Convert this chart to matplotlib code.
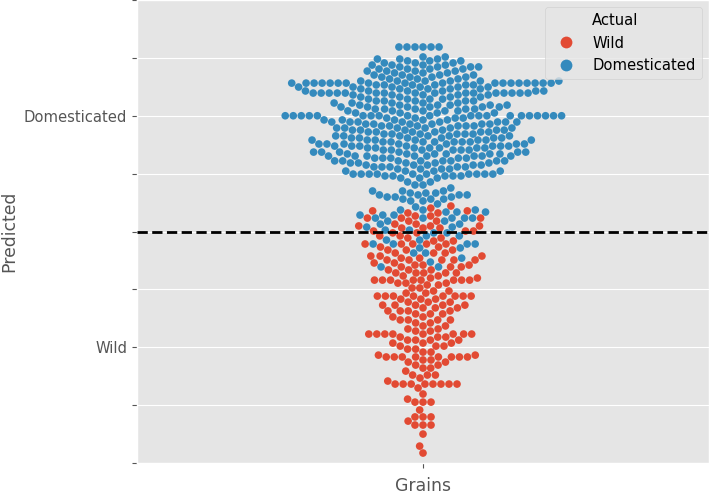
import numpy as np
import pandas as pd
import matplotlib
matplotlib.use("Agg")
import matplotlib.pyplot as plt
from matplotlib.lines import Line2D
import seaborn as sns

plt.style.use("ggplot")

# Predicted score (value) and number of grains at that score, actual = Domesticated
dom_levels = [1.297, 1.254, 1.245, 1.237, 1.228, 1.219, 1.211, 1.202, 1.193, 1.185,
              1.176, 1.167, 1.159, 1.150, 1.141, 1.133, 1.124, 1.116, 1.107, 1.098,
              1.090, 1.081, 1.072, 1.064, 1.055, 1.046, 1.038, 1.029, 1.021, 1.012,
              1.000, 0.990, 0.982, 0.973, 0.964, 0.956, 0.947, 0.938, 0.930, 0.921,
              0.913, 0.904, 0.895, 0.887, 0.878, 0.869, 0.861, 0.852, 0.843, 0.835,
              0.826, 0.817, 0.805, 0.796, 0.787, 0.779, 0.770, 0.761, 0.748, 0.740,
              0.731, 0.714, 0.701, 0.688, 0.675, 0.666, 0.658, 0.649, 0.640, 0.632,
              0.619, 0.606, 0.593, 0.584, 0.571, 0.558, 0.545, 0.532, 0.519, 0.506,
              0.494, 0.481, 0.463, 0.446, 0.429, 0.407, 0.385, 0.368, 0.347]
dom_counts = [6, 2, 3, 3, 3, 4, 4, 4, 4, 3,
              4, 4, 3, 6, 18, 6, 6, 5, 6, 16,
              5, 4, 4, 5, 5, 6, 6, 5, 5, 4,
              20, 4, 5, 8, 6, 6, 6, 6, 6, 6,
              6, 6, 7, 7, 7, 7, 7, 6, 6, 6,
              8, 5, 8, 5, 5, 5, 4, 4, 10, 5,
              3, 2, 2, 1, 3, 3, 4, 3, 3, 2,
              1, 1, 3, 3, 3, 5, 2, 2, 2, 2,
              2, 2, 2, 4, 2, 2, 1, 1, 2]

# Predicted score (value) and number of grains at that score, actual = Wild
wild_levels = [0.610, 0.601, 0.589, 0.580, 0.567, 0.558, 0.545, 0.532, 0.524, 0.515,
               0.502, 0.494, 0.481, 0.472, 0.459, 0.446, 0.433, 0.420, 0.407, 0.394,
               0.385, 0.377, 0.364, 0.355, 0.347, 0.334, 0.321, 0.308, 0.299, 0.290,
               0.277, 0.269, 0.256, 0.243, 0.234, 0.221, 0.208, 0.195, 0.182, 0.170,
               0.157, 0.144, 0.131, 0.118, 0.105, 0.092, 0.079, 0.070, 0.057, 0.044,
               0.031, 0.018, 0.005, -0.008, -0.021, -0.034, -0.042, -0.055, -0.064, -0.077,
               -0.090, -0.103, -0.120, -0.133, -0.146, -0.159, -0.176, -0.202, -0.224, -0.237,
               -0.271, -0.301, -0.319, -0.336, -0.375, -0.427, -0.457]
wild_counts = [1, 1, 2, 2, 2, 3, 2, 2, 3, 3,
               3, 2, 2, 2, 2, 5, 2, 3, 3, 3,
               2, 5, 2, 3, 3, 3, 5, 2, 2, 8,
               3, 2, 2, 2, 2, 8, 3, 3, 5, 3,
               4, 3, 2, 4, 2, 2, 2, 2, 8, 3,
               4, 3, 3, 2, 2, 2, 8, 2, 2, 2,
               2, 1, 3, 1, 1, 8, 1, 1, 1, 3,
               1, 3, 1, 3, 1, 1, 1]

hue_order = ["Wild", "Domesticated"]
palette = {"Wild": "#E24A33", "Domesticated": "#348ABD"}
y_ticks = [-0.5, -0.25, 0.0, 0.25, 0.5, 0.75, 1.0, 1.25, 1.5]
y_ticklabels = ["", "", "Wild", "", "", "", "Domesticated", "", ""]

pred = np.concatenate([np.repeat(wild_levels, wild_counts), np.repeat(dom_levels, dom_counts)])
actual = ["Wild"] * int(np.sum(wild_counts)) + ["Domesticated"] * int(np.sum(dom_counts))
df = pd.DataFrame({"Grains": ["Grains"] * len(pred), "Predicted": pred, "Actual": actual})

fig = plt.figure(figsize=(7.09, 4.94), dpi=100)
ax = fig.add_axes([137 / 709, 31 / 494, (709 - 137) / 709, 463 / 494])
sns.swarmplot(data=df, x="Grains", y="Predicted", hue="Actual", hue_order=hue_order,
              palette=palette, size=5.5, linewidth=0, ax=ax, legend=False)
ax.axhline(0.5, color="black", linestyle="--", linewidth=2, zorder=3)
ax.set_ylim(-0.5, 1.5)
ax.set_xlim(-0.5, 0.5)
ax.set_yticks(y_ticks)
ax.set_yticklabels(y_ticklabels, fontsize=10.6, color="#555555")
ax.set_xticks([0])
ax.set_xticklabels([""])
ax.set_xlabel("Grains", fontsize=12.4, color="#555555", labelpad=3)
ax.set_ylabel("Predicted", fontsize=12.4, color="#555555", labelpad=4)
ax.grid(True, axis="y", color="white")
ax.grid(False, axis="x")

handles = [Line2D([], [], linestyle="none", marker="")]
labels = ["Actual"]
for h in hue_order:
    handles.append(Line2D([], [], linestyle="none", marker="o", markersize=8.5,
                          markerfacecolor=palette[h], markeredgewidth=0))
    labels.append(h)
leg = ax.legend(handles, labels, loc="upper right", fontsize=10.6, handletextpad=0.8)
fig.savefig("out.png", dpi=100)
